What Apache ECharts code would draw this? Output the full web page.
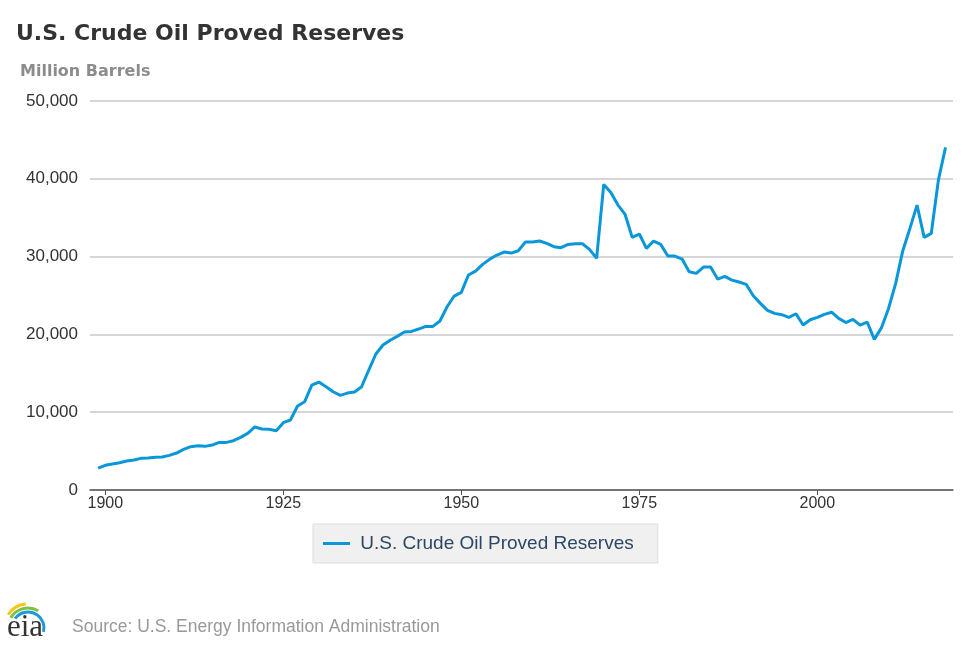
<!DOCTYPE html>
<html>
<head>
<meta charset="utf-8">
<script src="https://cdn.jsdelivr.net/npm/echarts@6/dist/echarts.min.js"></script>
<style>
html,body{margin:0;padding:0;background:#fff;}
#chart{width:970px;height:647px;}
</style>
</head>
<body>
<div id="chart"></div>
<script>
var titleText = 'U.S. Crude Oil Proved Reserves';
var unitText = 'Million Barrels';
var seriesName = 'U.S. Crude Oil Proved Reserves';
var sourceText = 'Source: U.S. Energy Information Administration';
var firstYear = 1899;
var reserves = [
  2800, 3170, 3340, 3510, 3730, 3850, 4070, 4110, 4200, 4240,
  4450, 4750, 5220, 5570, 5700, 5610, 5780, 6120, 6120, 6340,
  6770, 7280, 8100, 7840, 7800, 7620, 8650, 9000, 10800, 11350,
  13490, 13880, 13280, 12630, 12170, 12460, 12590, 13280, 15420, 17480,
  18630, 19250, 19750, 20300, 20380, 20690, 21030, 21030, 21720, 23550,
  24930, 25400, 27630, 28140, 29000, 29680, 30200, 30580, 30450, 30750,
  31870, 31870, 32000, 31700, 31270, 31140, 31570, 31650, 31650, 30930,
  29770, 39280, 38250, 36620, 35420, 32470, 32900, 31060, 32000, 31570,
  30070, 30070, 29680, 28050, 27840, 28650, 28650, 27110, 27450, 26980,
  26730, 26430, 24970, 23990, 23090, 22700, 22530, 22190, 22650, 21200,
  21880, 22190, 22580, 22850, 22060, 21520, 21930, 21200, 21590, 19360,
  20860, 23340, 26560, 30760, 33620, 36620, 32470, 32990, 39840, 44040
];
var xTicks = [1900, 1925, 1950, 1975, 2000];

var years = [];
for (var i = 0; i < reserves.length; i++) years.push(firstYear + i);
var seriesData = years.map(function (y, i) { return [y, reserves[i]]; });

var chart = echarts.init(document.getElementById('chart'), null, {renderer: 'canvas'});
var font = 'Arial, "Liberation Sans", Helvetica, sans-serif';
var boldFont = '"DejaVu Sans", Arial, sans-serif';
chart.setOption({
  animation: false,
  backgroundColor: '#ffffff',
  grid: {left: 90, right: 17, top: 101, bottom: 157, containLabel: false},
  xAxis: {
    type: 'value',
    min: 1897.85,
    max: 2019.05,
    axisLine: {show: true, lineStyle: {color: '#555555', width: 1.5}},
    axisTick: {show: true, customValues: xTicks, length: 5, lineStyle: {color: '#555555', width: 1}},
    axisLabel: {customValues: xTicks, color: '#333333', fontSize: 16, fontFamily: font, margin: 6,
      formatter: function (v) { return String(v); }},
    splitLine: {show: false}
  },
  yAxis: {
    type: 'value',
    min: 0,
    max: 50000,
    interval: 10000,
    axisLine: {show: false},
    axisTick: {show: false},
    axisLabel: {color: '#333333', fontSize: 17, fontFamily: font, margin: 12,
      formatter: function (v) { return v.toLocaleString('en-US'); }},
    splitLine: {show: true, lineStyle: {color: '#c8c8c8', width: 1.5}}
  },
  legend: {
    show: true,
    left: 313,
    top: 524,
    data: [{name: seriesName, icon: 'rect'}],
    itemWidth: 27,
    itemHeight: 3,
    itemGap: 10,
    padding: [10, 24, 10, 10],
    backgroundColor: '#f0f0f0',
    borderColor: '#dddddd',
    borderWidth: 1,
    formatter: function (name) { return ' ' + name; },
    textStyle: {color: '#2c4764', fontSize: 19, fontFamily: font}
  },
  series: [{
    name: seriesName,
    type: 'line',
    data: seriesData,
    showSymbol: false,
    symbol: 'none',
    lineStyle: {color: '#0a97d9', width: 3},
    itemStyle: {color: '#0a97d9'}
  }],
  graphic: [
    {type: 'text', left: 16, top: 23,
      style: {text: titleText, fill: '#333333', font: 'bold 22px ' + boldFont}},
    {type: 'text', left: 20, top: 64,
      style: {text: unitText, fill: '#8c8c8c', font: 'bold 16px ' + boldFont}},
    {type: 'text', left: 72, top: 618,
      style: {text: sourceText, fill: '#999999', font: '17.5px ' + font}},
    {type: 'text', left: 7, top: 612,
      style: {text: 'eia', fill: '#333333', font: '31px "Liberation Serif", "DejaVu Serif", serif'}},
    {type: 'arc', shape: {cx: 28, cy: 628, r: 24, startAngle: Math.PI * 1.19, endAngle: Math.PI * 1.47},
      style: {stroke: '#f5c518', lineWidth: 3, fill: null}},
    {type: 'arc', shape: {cx: 28, cy: 628, r: 20, startAngle: Math.PI * 1.17, endAngle: Math.PI * 1.67},
      style: {stroke: '#7cc242', lineWidth: 3, fill: null}},
    {type: 'arc', shape: {cx: 28, cy: 628, r: 16, startAngle: Math.PI * 1.2, endAngle: Math.PI * 2.08},
      style: {stroke: '#1e9ad6', lineWidth: 3, fill: null}}
  ]
});
</script>
</body>
</html>
